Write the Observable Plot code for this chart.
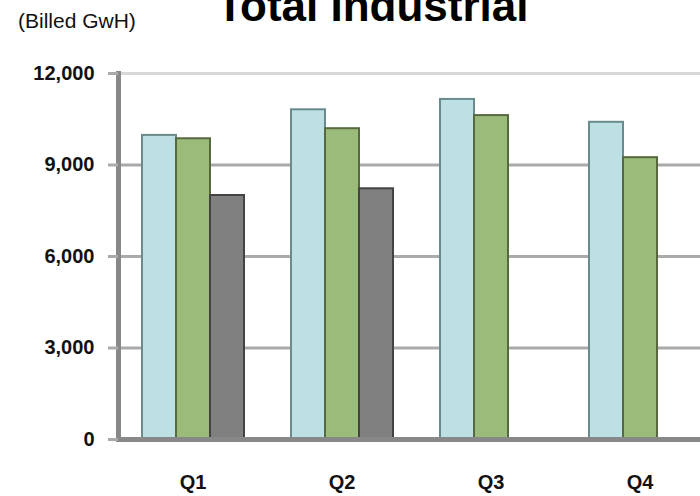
<!DOCTYPE html>
<html>
<head>
<meta charset="utf-8">
<script src="https://cdn.jsdelivr.net/npm/d3@7"></script>
<script src="https://cdn.jsdelivr.net/npm/@observablehq/plot@0.6"></script>
<style>
html, body { margin: 0; padding: 0; background: #fff; }
#wrap { position: relative; width: 700px; height: 496px; overflow: hidden; background: #fff; }
#chart { position: absolute; left: 0; top: 0; width: 720px; }
#chart svg { max-width: none !important; }
#title { position: absolute; left: 0; width: 745px; top: -16px; text-align: center; white-space: nowrap;
  font: bold 44px/44px "Liberation Sans", Arial, sans-serif; color: #000; }
#unit { position: absolute; left: 18px; top: 10px; white-space: nowrap;
  font: 21px/21px "Liberation Sans", Arial, sans-serif; color: #111; }
</style>
</head>
<body>
<div id="wrap">
  <div id="chart"></div>
  <div id="title">Total Industrial</div>
  <div id="unit">(Billed GwH)</div>
</div>
<script>
// ---- data ----
const quarters = ["Q1", "Q2", "Q3", "Q4"];
const seriesNames = ["Series 1", "Series 2", "Series 3"];
const series1 = [9970, 10810, 11150, 10400];
const series2 = [9860, 10190, 10620, 9240];
const series3 = [8000, 8220, null, null];
const yTicks = [0, 3000, 6000, 9000, 12000];

// ---- styles ----
const fillColors = ["#bde0e4", "#9bbb7b", "#808080"];
const strokeColors = ["#6a8a8c", "#56693f", "#434343"];

const allSeries = [series1, series2, series3];
const rows = [];
quarters.forEach((q, i) => {
  allSeries.forEach((arr, j) => {
    if (arr[i] != null) rows.push({quarter: q, series: seriesNames[j], value: arr[i]});
  });
});
const fillOf = Object.fromEntries(seriesNames.map((s, i) => [s, fillColors[i]]));
const strokeOf = Object.fromEntries(seriesNames.map((s, i) => [s, strokeColors[i]]));

const chart = Plot.plot({
  width: 720,
  height: 496,
  marginLeft: 117,
  marginRight: 6,
  marginTop: 73,
  marginBottom: 57,
  style: {fontFamily: "'Liberation Sans', Arial, sans-serif", fontSize: "20px", fontWeight: "bold", color: "#111", background: "#fff", maxWidth: "none", overflow: "visible"},
  fx: {domain: quarters, padding: 0, label: null},
  x: {domain: seriesNames, paddingInner: 0, paddingOuter: 0.669, axis: null},
  y: {domain: [0, 12000]},
  marks: [
    Plot.gridY(yTicks.slice(1, -1), {stroke: "#aaaaaa", strokeWidth: 3, strokeOpacity: 1}),
    Plot.gridY(yTicks.slice(-1), {stroke: "#d8d8d8", strokeWidth: 3, strokeOpacity: 1}),
    Plot.barY(rows, {fx: "quarter", x: "series", y: "value", fill: d => fillOf[d.series], stroke: d => strokeOf[d.series], strokeWidth: 2, inset: 0}),
    Plot.ruleY([0], {stroke: "#888888", strokeWidth: 5}),
    Plot.frame({anchor: "left", facetAnchor: "left", stroke: "#888888", strokeWidth: 5}),
    Plot.axisY(yTicks, {tickSize: 10, tickPadding: 14, tickFormat: d3.format(","), stroke: "#aaaaaa", strokeWidth: 3, fontSize: 20, label: null}),
    Plot.axisFx({anchor: "bottom", tickSize: 0, tickPadding: 35, fontSize: 20, label: null})
  ]
});
document.getElementById("chart").appendChild(chart);
</script>
</body>
</html>
